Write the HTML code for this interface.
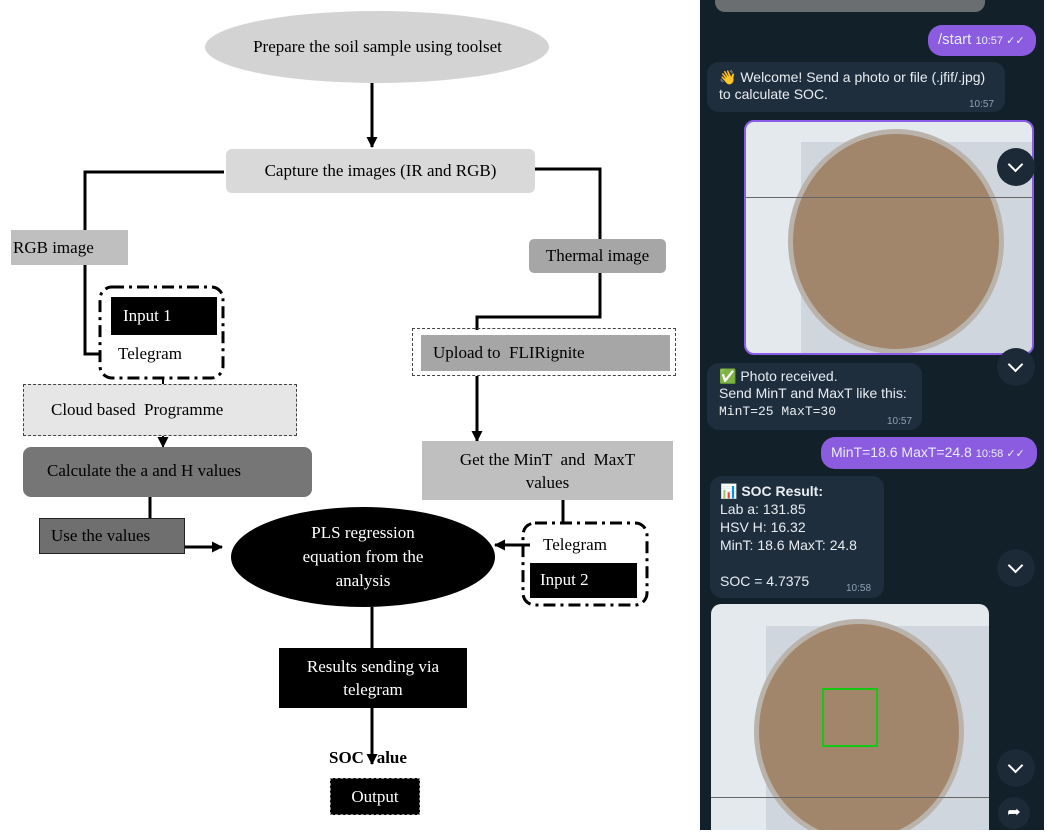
<!DOCTYPE html>
<html><head><meta charset="utf-8"><style>
body{margin:0;width:1052px;height:840px;background:#fff;position:relative;overflow:hidden;font-family:"Liberation Serif",serif;}
.a{position:absolute;box-sizing:border-box;}
.t{display:flex;align-items:center;justify-content:center;text-align:center;}
.bub{position:absolute;box-sizing:border-box;color:#e8edf2;font-family:"Liberation Sans",sans-serif;font-size:14px;line-height:17px;}
.tm{position:absolute;font-size:10px;color:#8fa0b0;font-family:"Liberation Sans",sans-serif;}
.chev{position:absolute;width:38px;height:38px;border-radius:50%;background:#1c2a38;}
.chev:after{content:"";position:absolute;left:13px;top:11px;width:9px;height:9px;border-right:2px solid #fff;border-bottom:2px solid #fff;transform:rotate(45deg);}
</style></head><body>
<svg class="a" style="left:0;top:0" width="700" height="840">
<defs><marker id="ar" markerUnits="userSpaceOnUse" markerWidth="11" markerHeight="11" refX="10" refY="5.5" orient="auto"><path d="M0,0 L11,5.5 L0,11 z" fill="#000"/></marker></defs>
<ellipse cx="377" cy="47" rx="172" ry="36" fill="#d3d3d3"/>
<line x1="372" y1="83" x2="372" y2="147" stroke="#000" stroke-width="3" marker-end="url(#ar)"/>
<polyline points="224,172 85,172 85,354 101,354" fill="none" stroke="#000" stroke-width="3"/>
<polyline points="535,169 600,169 600,240" fill="none" stroke="#000" stroke-width="3"/>
<polyline points="600,273 600,317 477,317 477,330" fill="none" stroke="#000" stroke-width="3"/>
<line x1="477" y1="376" x2="477" y2="441" stroke="#000" stroke-width="3" marker-end="url(#ar)"/>
<line x1="163" y1="378" x2="163" y2="385" stroke="#000" stroke-width="2"/>
<line x1="163" y1="436" x2="163" y2="447" stroke="#000" stroke-width="2" marker-end="url(#ar)"/>
<line x1="150" y1="497" x2="150" y2="518" stroke="#000" stroke-width="3"/>
<line x1="185" y1="547" x2="222" y2="547" stroke="#000" stroke-width="3" marker-end="url(#ar)"/>
<line x1="563" y1="500" x2="563" y2="524" stroke="#000" stroke-width="3"/>
<line x1="530" y1="545" x2="495" y2="545" stroke="#000" stroke-width="3" marker-end="url(#ar)"/>
<ellipse cx="363" cy="557" rx="132" ry="50" fill="#000"/>
<line x1="372" y1="607" x2="372" y2="648" stroke="#000" stroke-width="3"/>
<line x1="372" y1="708" x2="372" y2="764" stroke="#000" stroke-width="3" marker-end="url(#ar)"/>
<rect x="100" y="287" width="123" height="91" rx="12" fill="none" stroke="#000" stroke-width="3" stroke-dasharray="12,5,3,5"/>
<rect x="523" y="523" width="124" height="82" rx="12" fill="none" stroke="#000" stroke-width="3" stroke-dasharray="12,5,3,5"/>
</svg>
<div class="a t" style="top:11px;left:205px;width:345px;height:72px;font-size:17px">Prepare the soil sample using toolset</div>
<div class="a t" style="left:226px;top:149px;width:309px;height:44px;background:#d9d9d9;border-radius:6px;font-size:17px">Capture the images (IR and RGB)</div>
<div class="a" style="left:11px;top:230px;width:117px;height:35px;background:#bfbfbf;font-size:17px;padding:8px 0 0 2px">RGB image</div>
<div class="a t" style="left:529px;top:239px;width:137px;height:34px;background:#a6a6a6;border-radius:5px;font-size:17px">Thermal image</div>
<div class="a" style="left:111px;top:297px;width:106px;height:38px;background:#000;color:#fff;font-size:17px;padding:9px 0 0 12px">Input 1</div>
<div class="a" style="left:104px;top:335px;width:113px;height:38px;background:#fff;font-size:17px;padding:9px 0 0 14px">Telegram</div>
<div class="a" style="left:412px;top:328px;width:264px;height:48px;border:1.5px dashed #444"></div>
<div class="a" style="left:421px;top:335px;width:249px;height:36px;background:#a6a6a6;font-size:17px;padding:8px 0 0 12px">Upload to &nbsp;FLIRignite</div>
<div class="a" style="left:23px;top:384px;width:274px;height:52px;background:#e6e6e6;border:1.5px dashed #444;font-size:17px;padding:15px 0 0 27px">Cloud based &nbsp;Programme</div>
<div class="a" style="left:23px;top:447px;width:289px;height:50px;background:#767676;border-radius:8px;font-size:17px;padding:14px 0 0 24px">Calculate the a and H values</div>
<div class="a t" style="left:422px;top:441px;width:251px;height:59px;background:#bfbfbf;font-size:17px;line-height:23px">Get the MinT &nbsp;and &nbsp;MaxT<br>values</div>
<div class="a" style="left:39px;top:518px;width:146px;height:36px;background:#6f6f6f;border:1.5px solid #222;font-size:17px;padding:7px 0 0 11px">Use the values</div>
<div class="a t" style="left:231px;top:512px;width:264px;height:90px;color:#fff;font-size:17px;line-height:24px">PLS regression<br>equation from the<br>analysis</div>
<div class="a" style="left:530px;top:530px;width:107px;height:33px;background:#fff;font-size:17px;padding:5px 0 0 13px">Telegram</div>
<div class="a" style="left:530px;top:563px;width:107px;height:35px;background:#000;color:#fff;font-size:17px;padding:7px 0 0 10px">Input 2</div>
<div class="a t" style="left:279px;top:648px;width:188px;height:60px;background:#000;color:#fff;font-size:17px;line-height:23px">Results sending via<br>telegram</div>
<div class="a" style="left:329px;top:748px;font-size:17px;font-weight:bold">SOC value</div>
<div class="a t" style="left:330px;top:778px;width:90px;height:37px;background:#000;color:#fff;border:1.5px dashed #888;font-size:17px">Output</div>

<!-- phone -->
<div class="a" style="left:700px;top:0;width:344px;height:830px;background:#12202a;overflow:hidden">
<div class="a" style="left:15px;top:0;width:270px;height:12px;background:#6b6e70;border-radius:0 0 10px 10px"></div>
<div class="bub" style="left:228px;top:25px;width:108px;height:31px;background:#8b5ce0;border-radius:14px;padding:6px 0 0 10px;font-size:15px">/start <span style="font-size:11px">10:57 ✓✓</span></div>
<div class="bub" style="left:7px;top:62px;width:298px;height:50px;background:#1f2e3d;border-radius:12px;padding:7px 0 0 12px">👋 Welcome! Send a photo or file (.jfif/.jpg)<br>to calculate SOC.<span class="tm" style="left:262px;top:34px">10:57</span></div>
<div class="a" style="left:44px;top:120px;width:290px;height:235px;background:#e4e9ee;border:2px solid #8a5ce8;border-radius:10px;overflow:hidden">
<div class="a" style="left:55px;top:20px;width:235px;height:215px;background:#cfd6dd"></div>
<div class="a" style="left:42px;top:7px;width:216px;height:225px;border-radius:50%;background:#a2866c;border:5px solid #b9b3ac"></div>
<div class="a" style="left:0;top:75px;width:290px;height:1px;background:#666"></div>
</div>
<div class="chev" style="left:297px;top:148px"></div>
<div class="chev" style="left:297px;top:348px"></div>
<div class="bub" style="left:7px;top:363px;width:215px;height:67px;background:#1f2e3d;border-radius:12px;padding:5px 0 0 12px">✅ Photo received.<br>Send MinT and MaxT like this:<br><span style="font-family:'Liberation Mono',monospace;font-size:13px">MinT=25 MaxT=30</span><span class="tm" style="left:180px;top:50px">10:57</span></div>
<div class="bub" style="left:121px;top:437px;width:216px;height:32px;background:#8b5ce0;border-radius:14px;padding:7px 0 0 10px">MinT=18.6 MaxT=24.8 <span style="font-size:11px">10:58 ✓✓</span></div>
<div class="bub" style="left:10px;top:476px;width:174px;height:122px;background:#1f2e3d;border-radius:12px;padding:6px 0 0 10px;line-height:18px">📊 <b>SOC Result:</b><br>Lab a: 131.85<br>HSV H: 16.32<br>MinT: 18.6 MaxT: 24.8<br><br>SOC = 4.7375<span class="tm" style="left:136px;top:104px">10:58</span></div>
<div class="chev" style="left:297px;top:549px"></div>
<div class="a" style="left:11px;top:604px;width:278px;height:226px;background:#e4e9ee;border-radius:10px 10px 0 0;overflow:hidden">
<div class="a" style="left:55px;top:22px;width:223px;height:204px;background:#cfd6dd"></div>
<div class="a" style="left:43px;top:15px;width:210px;height:225px;border-radius:50%;background:#a2866c;border:5px solid #b9b3ac"></div>
<div class="a" style="left:111px;top:84px;width:56px;height:59px;border:2px solid #14c814"></div>
<div class="a" style="left:0;top:193px;width:278px;height:1px;background:#666"></div>
</div>
<div class="chev" style="left:297px;top:749px"></div>
<div class="a" style="left:298px;top:797px;width:32px;height:32px;border-radius:50%;background:#1c2a38;color:#fff;font-size:16px;text-align:center;line-height:32px">➦</div>
</div>
</body></html>
